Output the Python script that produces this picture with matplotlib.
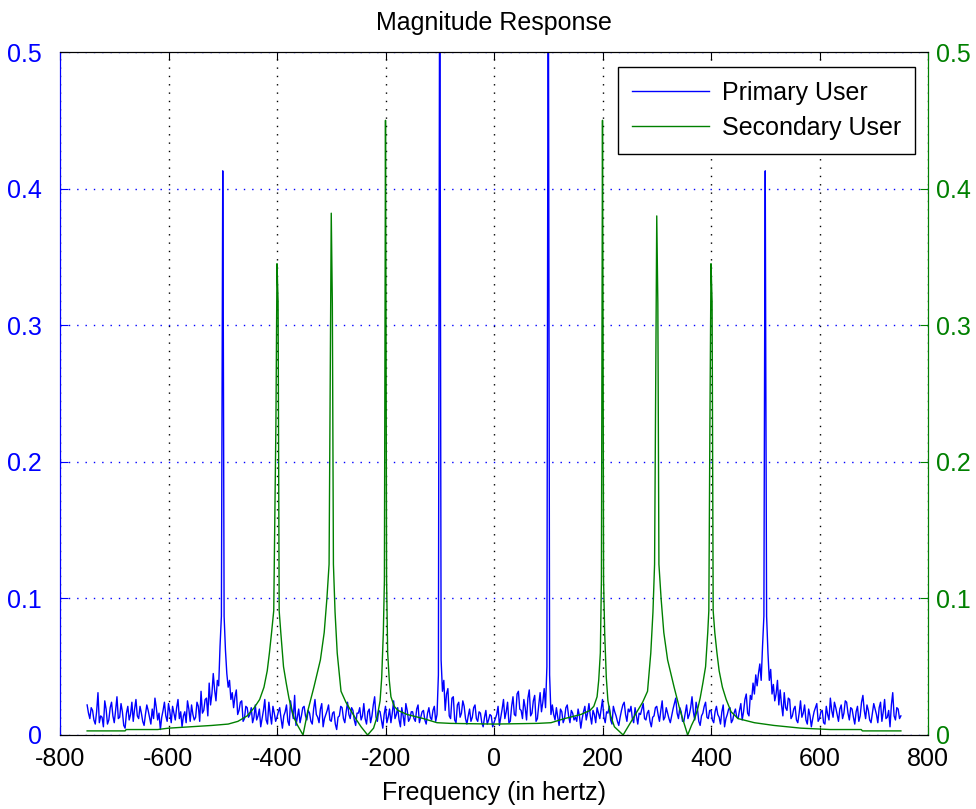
import numpy as np
import matplotlib
matplotlib.use("Agg")
import matplotlib.pyplot as plt

# ---- data -------------------------------------------------------------
# Primary user spectrum on a 2.5 Hz grid, -750 Hz .. 750 Hz
blue_start, blue_step = -750.0, 2.5
blue_mag = [
    # -750 .. -652.5
    0.022, 0.016, 0.012, 0.020, 0.018, 0.011, 0.008, 0.017, 0.031, 0.009,
    0.014, 0.013, 0.006, 0.025, 0.019, 0.008, 0.011, 0.020, 0.024, 0.014,
    0.009, 0.018, 0.028, 0.012, 0.013, 0.023, 0.017, 0.007, 0.005, 0.016,
    0.021, 0.011, 0.015, 0.024, 0.010, 0.019, 0.026, 0.014, 0.012, 0.021,
    # -650 .. -552.5
    0.016, 0.010, 0.007, 0.015, 0.022, 0.018, 0.013, 0.008, 0.019, 0.012,
    0.027, 0.020, 0.011, 0.016, 0.004, 0.013, 0.018, 0.024, 0.014, 0.010,
    0.023, 0.017, 0.009, 0.021, 0.016, 0.011, 0.020, 0.026, 0.012, 0.017,
    0.006, 0.014, 0.017, 0.009, 0.025, 0.019, 0.010, 0.022, 0.015, 0.011,
    # -550 .. -452.5
    0.013, 0.024, 0.021, 0.010, 0.032, 0.016, 0.018, 0.026, 0.027, 0.014,
    0.038, 0.022, 0.030, 0.045, 0.033, 0.025, 0.040, 0.036, 0.065, 0.087,
    0.413, 0.087, 0.062, 0.045, 0.035, 0.040, 0.026, 0.031, 0.020, 0.028,
    0.033, 0.015, 0.018, 0.024, 0.025, 0.010, 0.012, 0.021, 0.020, 0.013,
    # -450 .. -352.5
    0.015, 0.020, 0.009, 0.013, 0.022, 0.011, 0.014, 0.019, 0.006, 0.012,
    0.018, 0.026, 0.011, 0.008, 0.024, 0.015, 0.008, 0.021, 0.016, 0.010,
    0.013, 0.017, 0.020, 0.012, 0.005, 0.014, 0.017, 0.022, 0.010, 0.007,
    0.025, 0.018, 0.012, 0.029, 0.007, 0.013, 0.019, 0.009, 0.014, 0.020,
    # -350 .. -252.5
    0.021, 0.014, 0.011, 0.018, 0.016, 0.010, 0.008, 0.019, 0.026, 0.015,
    0.013, 0.009, 0.019, 0.023, 0.006, 0.012, 0.015, 0.018, 0.022, 0.011,
    0.010, 0.016, 0.017, 0.008, 0.004, 0.013, 0.014, 0.021, 0.020, 0.012,
    0.009, 0.017, 0.024, 0.015, 0.012, 0.020, 0.018, 0.011, 0.007, 0.016,
    # -250 .. -152.5
    0.016, 0.020, 0.011, 0.014, 0.023, 0.012, 0.008, 0.017, 0.019, 0.009,
    0.014, 0.022, 0.028, 0.013, 0.010, 0.018, 0.017, 0.011, 0.005, 0.015,
    0.021, 0.009, 0.013, 0.019, 0.009, 0.016, 0.025, 0.012, 0.015, 0.020,
    0.011, 0.006, 0.020, 0.014, 0.007, 0.023, 0.018, 0.010, 0.012, 0.017,
    # -150 .. -52.5
    0.017, 0.012, 0.010, 0.019, 0.022, 0.009, 0.013, 0.017, 0.018, 0.011,
    0.008, 0.016, 0.020, 0.013, 0.011, 0.018, 0.021, 0.010, 0.015, 0.044,
    0.620, 0.055, 0.032, 0.040, 0.018, 0.030, 0.034, 0.014, 0.012, 0.027,
    0.028, 0.011, 0.009, 0.022, 0.024, 0.013, 0.016, 0.025, 0.021, 0.012,
    # -50 .. 47.5
    0.008, 0.014, 0.019, 0.010, 0.013, 0.020, 0.022, 0.012, 0.010, 0.017,
    0.016, 0.009, 0.006, 0.013, 0.018, 0.008, 0.011, 0.015, 0.014, 0.006,
    0.009, 0.012, 0.015, 0.021, 0.007, 0.013, 0.019, 0.026, 0.012, 0.017,
    0.024, 0.009, 0.010, 0.021, 0.028, 0.015, 0.014, 0.030, 0.032, 0.019,
    # 50 .. 147.5
    0.018, 0.012, 0.026, 0.020, 0.011, 0.027, 0.033, 0.014, 0.016, 0.025,
    0.029, 0.010, 0.012, 0.022, 0.031, 0.017, 0.024, 0.034, 0.020, 0.050,
    0.620, 0.044, 0.015, 0.022, 0.015, 0.011, 0.020, 0.013, 0.007, 0.019,
    0.017, 0.009, 0.012, 0.020, 0.022, 0.014, 0.009, 0.018, 0.016, 0.011,
    # 150 .. 247.5
    0.013, 0.010, 0.019, 0.014, 0.005, 0.012, 0.017, 0.021, 0.011, 0.016,
    0.023, 0.014, 0.008, 0.018, 0.015, 0.009, 0.020, 0.016, 0.012, 0.019,
    0.026, 0.013, 0.009, 0.017, 0.016, 0.021, 0.011, 0.008, 0.021, 0.017,
    0.014, 0.010, 0.007, 0.013, 0.018, 0.022, 0.024, 0.015, 0.010, 0.019,
    # 250 .. 347.5
    0.017, 0.021, 0.012, 0.009, 0.020, 0.014, 0.008, 0.016, 0.015, 0.019,
    0.023, 0.012, 0.011, 0.016, 0.018, 0.010, 0.006, 0.013, 0.014, 0.020,
    0.021, 0.015, 0.010, 0.018, 0.025, 0.011, 0.013, 0.020, 0.016, 0.012,
    0.009, 0.014, 0.019, 0.023, 0.027, 0.016, 0.012, 0.020, 0.017, 0.010,
    # 350 .. 447.5
    0.010, 0.016, 0.022, 0.012, 0.015, 0.020, 0.028, 0.017, 0.011, 0.024,
    0.019, 0.010, 0.007, 0.014, 0.016, 0.021, 0.024, 0.013, 0.012, 0.018,
    0.018, 0.011, 0.009, 0.017, 0.021, 0.015, 0.013, 0.008, 0.017, 0.022,
    0.006, 0.012, 0.015, 0.019, 0.020, 0.009, 0.011, 0.016, 0.019, 0.013,
    # 450 .. 547.5
    0.012, 0.018, 0.023, 0.011, 0.017, 0.026, 0.030, 0.016, 0.014, 0.029,
    0.026, 0.038, 0.030, 0.044, 0.036, 0.045, 0.052, 0.040, 0.065, 0.087,
    0.413, 0.087, 0.060, 0.040, 0.048, 0.030, 0.037, 0.025, 0.030, 0.040,
    0.022, 0.033, 0.022, 0.014, 0.031, 0.020, 0.018, 0.027, 0.026, 0.012,
    # 550 .. 647.5
    0.014, 0.019, 0.021, 0.011, 0.009, 0.016, 0.025, 0.013, 0.016, 0.022,
    0.011, 0.008, 0.019, 0.014, 0.006, 0.012, 0.017, 0.020, 0.023, 0.010,
    0.012, 0.017, 0.018, 0.009, 0.008, 0.021, 0.015, 0.011, 0.027, 0.018,
    0.013, 0.024, 0.020, 0.015, 0.010, 0.019, 0.022, 0.012, 0.016, 0.025,
    # 650 .. 750
    0.024, 0.016, 0.011, 0.020, 0.019, 0.013, 0.008, 0.017, 0.021, 0.010,
    0.014, 0.024, 0.029, 0.018, 0.012, 0.022, 0.018, 0.011, 0.009, 0.016,
    0.023, 0.019, 0.015, 0.009, 0.020, 0.024, 0.010, 0.017, 0.026, 0.012,
    0.013, 0.018, 0.006, 0.022, 0.031, 0.014, 0.011, 0.020, 0.019, 0.012,
    0.014,
]

# Extra samples right beside the primary-user carriers
blue_core_freq = [-501.0, -499.0, -101.5, -98.5, 98.5, 101.5, 499.0, 501.0]
blue_core_mag = [0.268, 0.303, 0.284, 0.284, 0.284, 0.284, 0.303, 0.268]

# Secondary user spectrum
green_freq = [
    -750, -680, -678, -620, -600, -560, -520, -490, -472, -455,
    -442, -432, -424, -418, -414, -410, -406, -402, -400, -398,
    -396, -393, -388, -383, -378, -374, -368, -362, -352, -343,
    -332, -320, -313, -308, -304, -302, -300, -298, -296, -293,
    -289, -282, -273, -264, -255, -245, -233, -222, -215, -210,
    -207, -204, -202, -201, -200, -199, -198, -196, -193, -190,
    -184, -177, -160, -130, -105, -80, 0, 80, 105, 130,
    160, 177, 184, 190, 193, 196, 198, 199, 200, 201,
    202, 204, 207, 210, 215, 222, 238, 247, 256, 265,
    274, 283, 289, 293, 296, 298, 300, 302, 304, 308,
    313, 320, 332, 343, 357, 364, 370, 376, 380, 385,
    390, 394, 396, 398, 400, 402, 404, 407, 411, 415,
    421, 428, 437, 450, 480, 516, 566, 620, 677, 679,
    750,
]
green_mag = [
    0.003, 0.003, 0.004, 0.004, 0.005, 0.006, 0.007, 0.008, 0.010, 0.014,
    0.020, 0.026, 0.035, 0.047, 0.060, 0.075, 0.091, 0.228, 0.345, 0.317,
    0.091, 0.075, 0.050, 0.038, 0.027, 0.020, 0.012, 0.007, 0.000, 0.018,
    0.035, 0.055, 0.075, 0.100, 0.125, 0.250, 0.382, 0.316, 0.125, 0.090,
    0.060, 0.032, 0.024, 0.018, 0.012, 0.006, 0.000, 0.005, 0.014, 0.025,
    0.042, 0.075, 0.113, 0.274, 0.450, 0.300, 0.113, 0.060, 0.040, 0.028,
    0.021, 0.018, 0.015, 0.012, 0.009, 0.0085, 0.008, 0.0085, 0.009, 0.012,
    0.015, 0.018, 0.021, 0.028, 0.040, 0.060, 0.113, 0.274, 0.450, 0.300,
    0.113, 0.075, 0.042, 0.025, 0.014, 0.006, 0.000, 0.006, 0.012, 0.018,
    0.024, 0.032, 0.060, 0.090, 0.125, 0.250, 0.380, 0.316, 0.125, 0.100,
    0.075, 0.055, 0.035, 0.018, 0.000, 0.007, 0.012, 0.020, 0.027, 0.038,
    0.050, 0.075, 0.091, 0.228, 0.345, 0.317, 0.091, 0.075, 0.060, 0.047,
    0.035, 0.026, 0.017, 0.012, 0.009, 0.007, 0.005, 0.004, 0.004, 0.003,
    0.003,
]

x_ticks = [-800, -600, -400, -200, 0, 200, 400, 600, 800]
y_ticks = [0, 0.1, 0.2, 0.3, 0.4, 0.5]

# ---- assemble primary-user trace ----------------------------------------
assert len(blue_mag) == 601, len(blue_mag)
assert len(green_freq) == len(green_mag)
grid_f = blue_start + blue_step * np.arange(len(blue_mag))
pf = np.concatenate([grid_f, blue_core_freq])
pm = np.concatenate([blue_mag, blue_core_mag])
order = np.argsort(pf, kind="stable")
pf, pm = pf[order], pm[order]

BLUE = (0, 0, 1)
GREEN = (0, 0.5, 0)
FS = 18

plt.rcParams["font.family"] = ["Liberation Sans", "DejaVu Sans"]
plt.rcParams["font.size"] = FS
plt.rcParams["axes.unicode_minus"] = False

fig = plt.figure(figsize=(9.76, 8.09), dpi=100)
ax1 = fig.add_axes([60 / 976, 1 - 735 / 809, (928 - 60) / 976, (735 - 52) / 809])
ax2 = ax1.twinx()

l1, = ax1.plot(pf, pm, color=BLUE, lw=1.0, label="Primary User")
l2, = ax2.plot(green_freq, green_mag, color=GREEN, lw=1.0, label="Secondary User")

for ax in (ax1, ax2):
    ax.set_xlim(-800, 800)
    ax.set_ylim(0, 0.5)
    ax.set_yticks(y_ticks)
    ax.set_yticklabels([f"{v:g}" for v in y_ticks])

ax1.set_xticks(x_ticks)
ax1.set_xticklabels([str(v) for v in x_ticks])
ax1.tick_params(axis="x", direction="in", length=6, top=True, colors="black",
                pad=9, labelsize=FS)
ax1.tick_params(axis="y", direction="in", length=6, colors=BLUE, pad=13,
                labelsize=FS)
ax2.tick_params(axis="y", direction="in", length=6, colors=GREEN, pad=6,
                labelsize=FS)

ax1.spines["left"].set_color(BLUE)
ax2.spines["left"].set_color(BLUE)
ax2.spines["right"].set_color(GREEN)
ax1.spines["right"].set_color(GREEN)

ax1.grid(axis="x", color="black", linestyle=(0, (1, 5)), lw=1.0)
ax1.grid(axis="y", color=BLUE, linestyle=(0, (1, 5)), lw=1.0)
ax1.set_axisbelow(True)

ax1.set_title("Magnitude Response", fontsize=FS, pad=16)
ax1.set_xlabel("Frequency (in hertz)", fontsize=FS, labelpad=7)

leg = ax2.legend([l1, l2], ["Primary User", "Secondary User"],
                 loc="upper right", bbox_to_anchor=(0.985, 0.978),
                 fancybox=False, framealpha=1, edgecolor="black",
                 handlelength=3.1, borderpad=0.55, labelspacing=0.45,
                 handletextpad=0.5, borderaxespad=0, fontsize=FS)
leg.get_frame().set_linewidth(1.0)

fig.savefig("out.png", dpi=100, facecolor="white")
